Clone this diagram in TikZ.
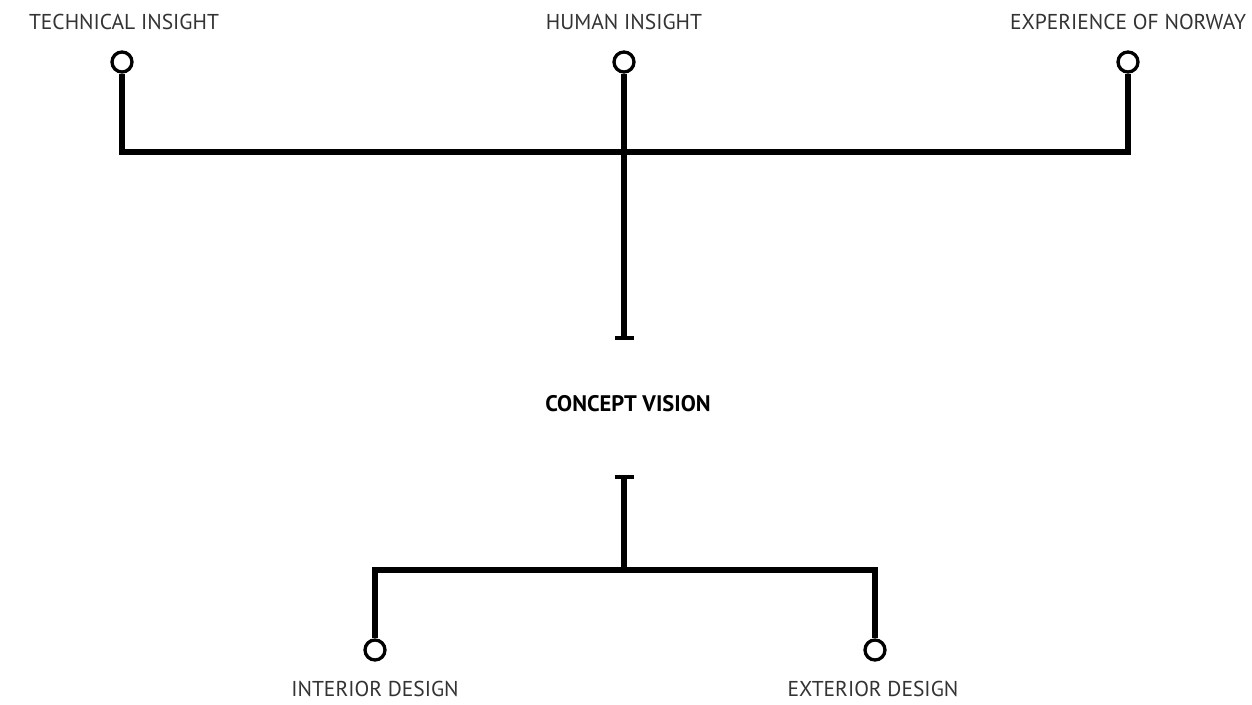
\documentclass[tikz,border=0pt]{standalone}
\usepackage{fontspec}
\setmainfont{PT Sans}
\usetikzlibrary{arrows.meta}
\definecolor{txt}{HTML}{333333}
\tikzset{
  port/.style={circle, draw=black, fill=white, line width=3.3pt, minimum size=20pt, inner sep=0pt},
  lbl/.style={text=txt, font=\fontsize{21.5}{24}\selectfont, inner sep=0pt, anchor=center},
  link/.style={line width=5.5pt, line cap=butt},
  tee/.style={-{Bar[width=19pt, line width=4pt]}}
}
\begin{document}
\begin{tikzpicture}[x=1pt, y=-1pt]
\useasboundingbox (0,0) rectangle (1252,704);
% labels
\node[lbl] (lt) at (124,22) {TECHNICAL INSIGHT};
\node[lbl] (lh) at (624,22) {HUMAN INSIGHT};
\node[lbl] (le) at (1128,22) {EXPERIENCE OF NORWAY};
\node[lbl, text=black, font=\fontsize{22.5}{25}\selectfont\bfseries] (cv) at (628,404) {CONCEPT VISION};
\node[lbl] (li) at (375,689) {INTERIOR DESIGN};
\node[lbl] (lx) at (873,689) {EXTERIOR DESIGN};
% ports
\node[port] (pt) at (122,62) {};
\node[port] (ph) at (624,62) {};
\node[port] (pe) at (1128,62) {};
\node[port] (pi) at (375,650) {};
\node[port] (px) at (875,650) {};
% junctions
\coordinate (jt) at (122,152);
\coordinate (jh) at (624,152);
\coordinate (je) at (1128,152);
\coordinate (cin) at (624,340);
\coordinate (cout) at (624,475);
\coordinate (jb) at (624,570);
\coordinate (ji) at (375,570);
\coordinate (jx) at (875,570);
% connectors
\draw[link] (pt.south) -- (jt) -- (je) -- (pe.south);
\draw[link, tee] (ph.south) -- (cin);
\draw[link, tee] (jb) -- (cout);
\draw[link] (pi.north) -- (ji) -- (jx) -- (px.north);
\end{tikzpicture}
\end{document}
